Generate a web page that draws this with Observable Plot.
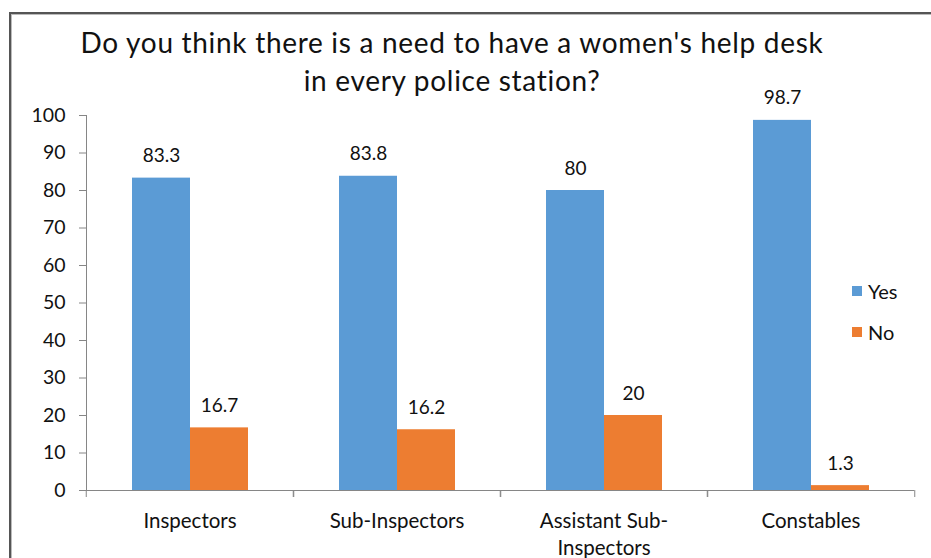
<!DOCTYPE html>
<html>
<head>
<meta charset="utf-8">
<script src="https://cdn.jsdelivr.net/npm/d3@7"></script>
<script src="https://cdn.jsdelivr.net/npm/@observablehq/plot@0.6"></script>
<style>
  html, body { margin: 0; padding: 0; background: #fff; }
  #wrap { position: relative; width: 931px; height: 558px; overflow: hidden; font-family: Lato, "Open Sans", sans-serif; }
  #border { position: absolute; left: 9px; top: 12px; right: -10px; bottom: -10px;
            border-top: 2px solid #555; border-left: 2px solid #555; }
  #border2 { position: absolute; left: 11px; top: 14px; right: -10px; bottom: -10px;
            border-top: 1px solid #bbb; border-left: 1px solid #bbb; }
  #title { position: absolute; left: 0; width: 904px; top: 23px; text-align: center;
           font-size: 28px; letter-spacing: 0.7px; line-height: 38px; color: #111; }
  #legend { position: absolute; left: 852px; top: 278px; font-size: 20px; color: #111; }
  #legend div { display: flex; align-items: center; height: 26px; margin-bottom: 15px; }
  #legend span.sw { display: inline-block; width: 10px; height: 10px; margin-right: 6px; }
  svg { position: absolute; left: 0; top: 0; }
</style>
</head>
<body>
<div id="wrap">
  <div id="border"></div>
  <div id="border2"></div>
  <div id="title">Do you think there is a need to have a women's help desk<br>in every police station?</div>
  <div id="legend"></div>
</div>
<script>
const categories = ["Inspectors", "Sub-Inspectors", "Assistant Sub-Inspectors", "Constables"];
const categoryLabels = ["Inspectors", "Sub-Inspectors", "Assistant Sub-\nInspectors", "Constables"];
const series = ["Yes", "No"];
const yesValues = [83.3, 83.8, 80, 98.7];
const noValues = [16.7, 16.2, 20, 1.3];
const valueLabels = { Yes: ["83.3", "83.8", "80", "98.7"], No: ["16.7", "16.2", "20", "1.3"] };
const colors = ["#5B9BD5", "#ED7D31"];
const yTicks = [0, 10, 20, 30, 40, 50, 60, 70, 80, 90, 100];

const data = [];
categories.forEach((c, i) => {
  data.push({ category: c, series: "Yes", value: yesValues[i], label: valueLabels.Yes[i] });
  data.push({ category: c, series: "No", value: noValues[i], label: valueLabels.No[i] });
});

const W = 931, H = 558, ML = 85, MR = 16, MT = 115, MB = 68;
const half = (W - ML - MR) / categories.length / 2;
const axisColor = "#868686";
const labelFmt = c => categoryLabels[categories.indexOf(c)];

const chart = Plot.plot({
  width: W, height: H,
  marginLeft: ML, marginRight: MR, marginTop: MT, marginBottom: MB,
  style: { fontFamily: "Lato, 'Open Sans', sans-serif", fontSize: "18px", color: "#111", background: "transparent" },
  fx: { domain: categories, paddingInner: 0, paddingOuter: 0, label: null },
  x: { domain: series, paddingInner: 0, paddingOuter: 0.758, axis: null },
  y: { domain: [0, 100], label: null },
  color: { domain: series, range: colors },
  marks: [
    Plot.frame({ anchor: "left", stroke: axisColor, facetAnchor: "left" }),
    Plot.barY(data, { fx: "category", x: "series", y: "value", fill: "series" }),
    Plot.ruleY([0], { stroke: axisColor }),
    Plot.text(data, { fx: "category", x: "series", y: "value", text: "label", dy: -22, fontSize: 19, fill: "#111" }),
    Plot.axisY(yTicks, { tickSize: 7, tickPadding: 14, stroke: axisColor, fontSize: 19.5, fill: "#111", label: null }),
    Plot.axisFx({ anchor: "bottom", tickSize: 0, tickPadding: 18, tickFormat: labelFmt, fontSize: 20.5, fill: "#111", lineHeight: 1.32, label: null }),
    Plot.axisFx({ anchor: "bottom", tickSize: 7, stroke: axisColor, text: null, dx: -half, label: null }),
    Plot.axisFx([categories[categories.length - 1]], { anchor: "bottom", tickSize: 7, stroke: axisColor, text: null, dx: half, label: null })
  ]
});
document.getElementById("wrap").appendChild(chart);

const legend = document.getElementById("legend");
series.forEach((s, i) => {
  const row = document.createElement("div");
  row.innerHTML = `<span class="sw" style="background:${colors[i]}"></span><span>${s}</span>`;
  legend.appendChild(row);
});
</script>
</body>
</html>
